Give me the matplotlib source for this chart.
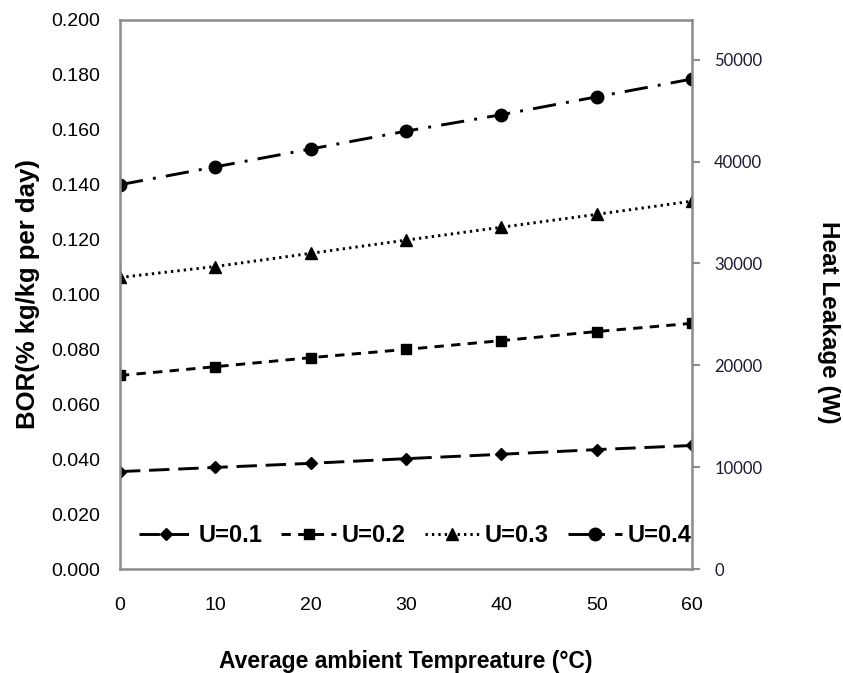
import matplotlib.pyplot as plt

temps = [0, 10, 20, 30, 40, 50, 60]
bor_u01 = [0.0355, 0.0370, 0.0385, 0.0402, 0.0418, 0.0435, 0.0450]
bor_u02 = [0.0705, 0.0737, 0.0770, 0.0800, 0.0832, 0.0865, 0.0895]
bor_u03 = [0.1062, 0.1102, 0.1150, 0.1198, 0.1245, 0.1292, 0.1340]
bor_u04 = [0.1400, 0.1465, 0.1530, 0.1595, 0.1655, 0.1720, 0.1785]
labels = ['U=0.1', 'U=0.2', 'U=0.3', 'U=0.4']
heat_ticks = [0, 10000, 20000, 30000, 40000, 50000]

fig = plt.figure(figsize=(8.43, 6.73), dpi=100)
ax = fig.add_axes([0.1423, 0.1545, 0.6786, 0.8158])

lw = 2.1
ax.plot(temps, bor_u01, color='black', lw=lw, dashes=(7, 3), marker='D', ms=6.5, label=labels[0])
ax.plot(temps, bor_u02, color='black', lw=lw, dashes=(3.2, 2.5), marker='s', ms=7.5, label=labels[1])
ax.plot(temps, bor_u03, color='black', lw=lw, dashes=(0.8, 1.4), marker='^', ms=8.5, label=labels[2])
ax.plot(temps, bor_u04, color='black', lw=lw, dashes=(8, 3.5, 1, 3.5), marker='o', ms=9, label=labels[3])

ax.set_xlim(0, 60)
ax.set_ylim(0, 0.2)
ax.set_xticks(temps)
ax.set_yticks([i * 0.02 for i in range(11)])
ax.set_yticklabels(['%.3f' % (i * 0.02) for i in range(11)])
ax.tick_params(axis='y', length=0, labelsize=14, pad=14)
ax.tick_params(axis='x', length=0, labelsize=14, pad=20)
for lab in ax.get_xticklabels() + ax.get_yticklabels():
    lab.set_family('Liberation Sans')

for s in ax.spines.values():
    s.set_color('#8c8c8c')
    s.set_linewidth(1.8)

ax.set_ylabel('BOR(% kg/kg per day)', fontsize=18.5, fontweight='bold',
              family='Liberation Sans', labelpad=8)
ax.set_xlabel('Average ambient Tempreature (\u00b0C)', fontsize=16.5, fontweight='bold',
              family='Liberation Sans', labelpad=26)

ax2 = ax.twinx()
ax2.set_ylim(0, 53900)
ax2.set_yticks(heat_ticks)
ax2.tick_params(axis='y', length=6, color='#8c8c8c', width=1.5, labelsize=12, pad=10)
for lab in ax2.get_yticklabels():
    lab.set_family('Lato')
    lab.set_color('#1a1a33')
for s in ax2.spines.values():
    s.set_visible(False)
ax2.set_ylabel('Heat Leakage (W)', fontsize=17.5, fontweight='bold', family='Liberation Sans',
               rotation=270, va='center')
ax2.yaxis.set_label_coords(1.238, 0.45)

leg = ax.legend(loc='lower center', bbox_to_anchor=(0.516, 0.01), ncol=4, frameon=False,
                prop={'family': 'Liberation Sans', 'weight': 'bold', 'size': 17},
                handlelength=2.3, handletextpad=0.25, columnspacing=0.8, borderpad=0.2)

fig.savefig('out.png', dpi=100)
